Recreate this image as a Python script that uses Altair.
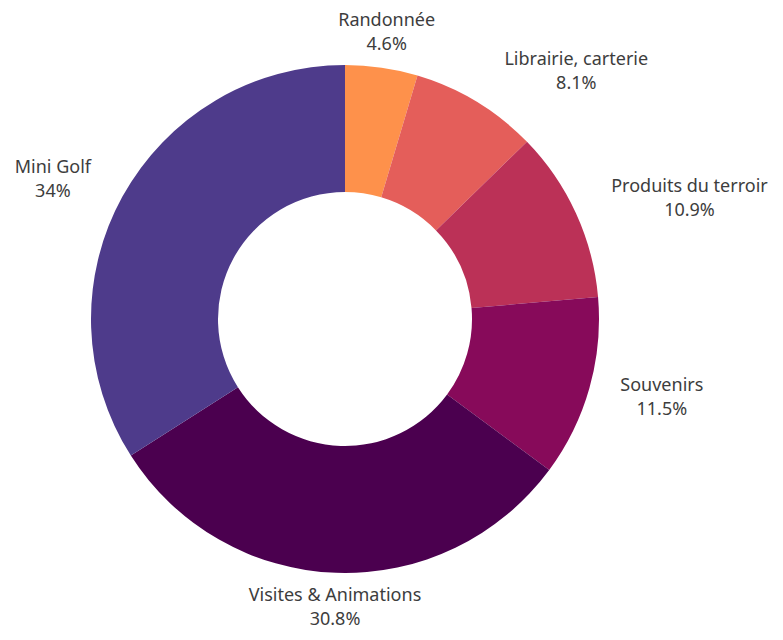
import altair as alt
import pandas as pd

categories = ["Randonnée", "Librairie, carterie", "Produits du terroir", "Souvenirs",
              "Visites & Animations", "Mini Golf"]
values = [4.6, 8.1, 10.9, 11.5, 30.8, 34.0]
colors = ["#fe914b", "#e45e5a", "#bb3157", "#870a5a", "#4b004f", "#4e3b8b"]

df = pd.DataFrame({
    "name": categories,
    "value": values,
    "pct": [f"{v:g}%" for v in values],
    "order": list(range(len(categories))),
})

theta = alt.Theta("value:Q", stack=True)
order = alt.Order("order:Q", sort="ascending")
color = alt.Color("name:N", scale=alt.Scale(domain=categories, range=colors), legend=None)

base = alt.Chart(df).transform_joinaggregate(
    total="sum(value)"
).transform_window(
    cum="sum(value)", sort=[alt.SortField("order", order="ascending")]
).transform_calculate(
    mid="(datum.cum - datum.value / 2) / datum.total",
    side="sin(2 * PI * datum.mid)",
    label="[datum.name, datum.pct]",
)

arcs = base.mark_arc(outerRadius=254, innerRadius=127).encode(
    theta=theta, order=order, color=color
)

labels = base.mark_text(
    radius=289,
    fontSize=18,
    font="Noto Sans",
    color="#3d3d3d",
    lineHeight=24,
    align="center",
    baseline="middle",
    dy=-12,
    dx=alt.expr("datum.side > 0.3 ? length(datum.name) * 4.3 : (datum.side < -0.3 ? -length(datum.name) * 4.3 : 0)"),
).encode(theta=theta, order=order, text="label:N")

chart = alt.layer(arcs, labels).properties(
    width=674,
    height=606,
    padding={"left": 0, "top": 8, "right": 93, "bottom": 10},
    autosize=alt.AutoSizeParams(type="none"),
).configure_view(stroke=None)

chart.save("out.html", embed_options={"renderer": "svg", "actions": False})
